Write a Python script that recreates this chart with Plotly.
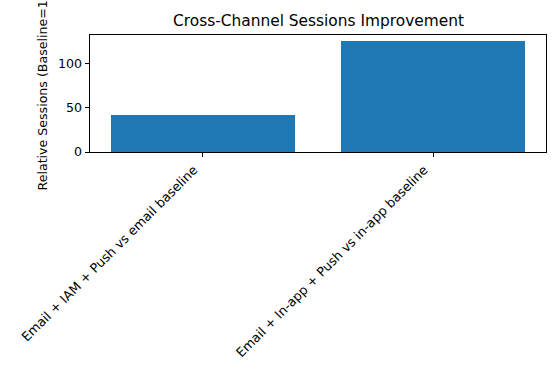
import plotly.graph_objects as go

categories = ["Email + IAM + Push vs email baseline", "Email + In-app + Push vs in-app baseline"]
values = [41.7, 126.5]
y_ticks = [0, 50, 100]

FONT = "DejaVu Sans"
W, H = 560, 373
L, R, T, B = 90, 14, 35, 221

fig = go.Figure()
fig.add_trace(go.Bar(
    x=list(range(len(categories))),
    y=values,
    width=0.8,
    marker=dict(color="#1f77b4", line=dict(width=0)),
))

fig.update_layout(
    width=W, height=H,
    margin=dict(l=L, r=R, t=T, b=B, pad=0, autoexpand=False),
    paper_bgcolor="white",
    plot_bgcolor="white",
    showlegend=False,
    font=dict(family=FONT, size=12.6, color="black"),
    bargap=0,
)
fig.update_xaxes(
    automargin=False,
    range=[-0.49, 1.49],
    tickmode="array",
    tickvals=list(range(len(categories))),
    ticktext=categories,
    tickangle=-45,
    ticklabelshift=-9,
    ticks="outside", ticklen=4.4, tickwidth=0.9, tickcolor="black",
    showline=True, linecolor="black", linewidth=0.9, mirror=True,
    showgrid=False, zeroline=False,
    tickfont=dict(family=FONT, size=12.8, color="black"),
)
fig.update_yaxes(
    automargin=False,
    range=[0, 132.8],
    tickmode="array",
    tickvals=y_ticks,
    ticktext=[str(v) for v in y_ticks],
    ticks="outside", ticklen=4.4, tickwidth=0.9, tickcolor="black",
    showline=True, linecolor="black", linewidth=0.9, mirror=True,
    showgrid=False, zeroline=False,
    tickfont=dict(family=FONT, size=12.6, color="black"),
)

plot_h = H - T - B
plot_w = W - L - R
fig.add_annotation(
    text="Relative Sessions (Baseline=1)",
    xref="paper", yref="paper",
    x=(42 - L) / plot_w, y=0.5,
    xanchor="center", yanchor="middle",
    textangle=-90, showarrow=False,
    font=dict(family=FONT, size=12.6, color="black"),
)
fig.add_annotation(
    text="Cross-Channel Sessions Improvement",
    xref="paper", yref="paper",
    x=0.5, y=1 + (T - 32) / plot_h,
    xanchor="center", yanchor="bottom",
    showarrow=False,
    font=dict(family=FONT, size=15.4, color="black"),
)

fig.write_html(
    "out.html",
    config={"displayModeBar": False},
    post_script="document.body.style.margin='0';document.body.style.overflow='hidden';",
)
